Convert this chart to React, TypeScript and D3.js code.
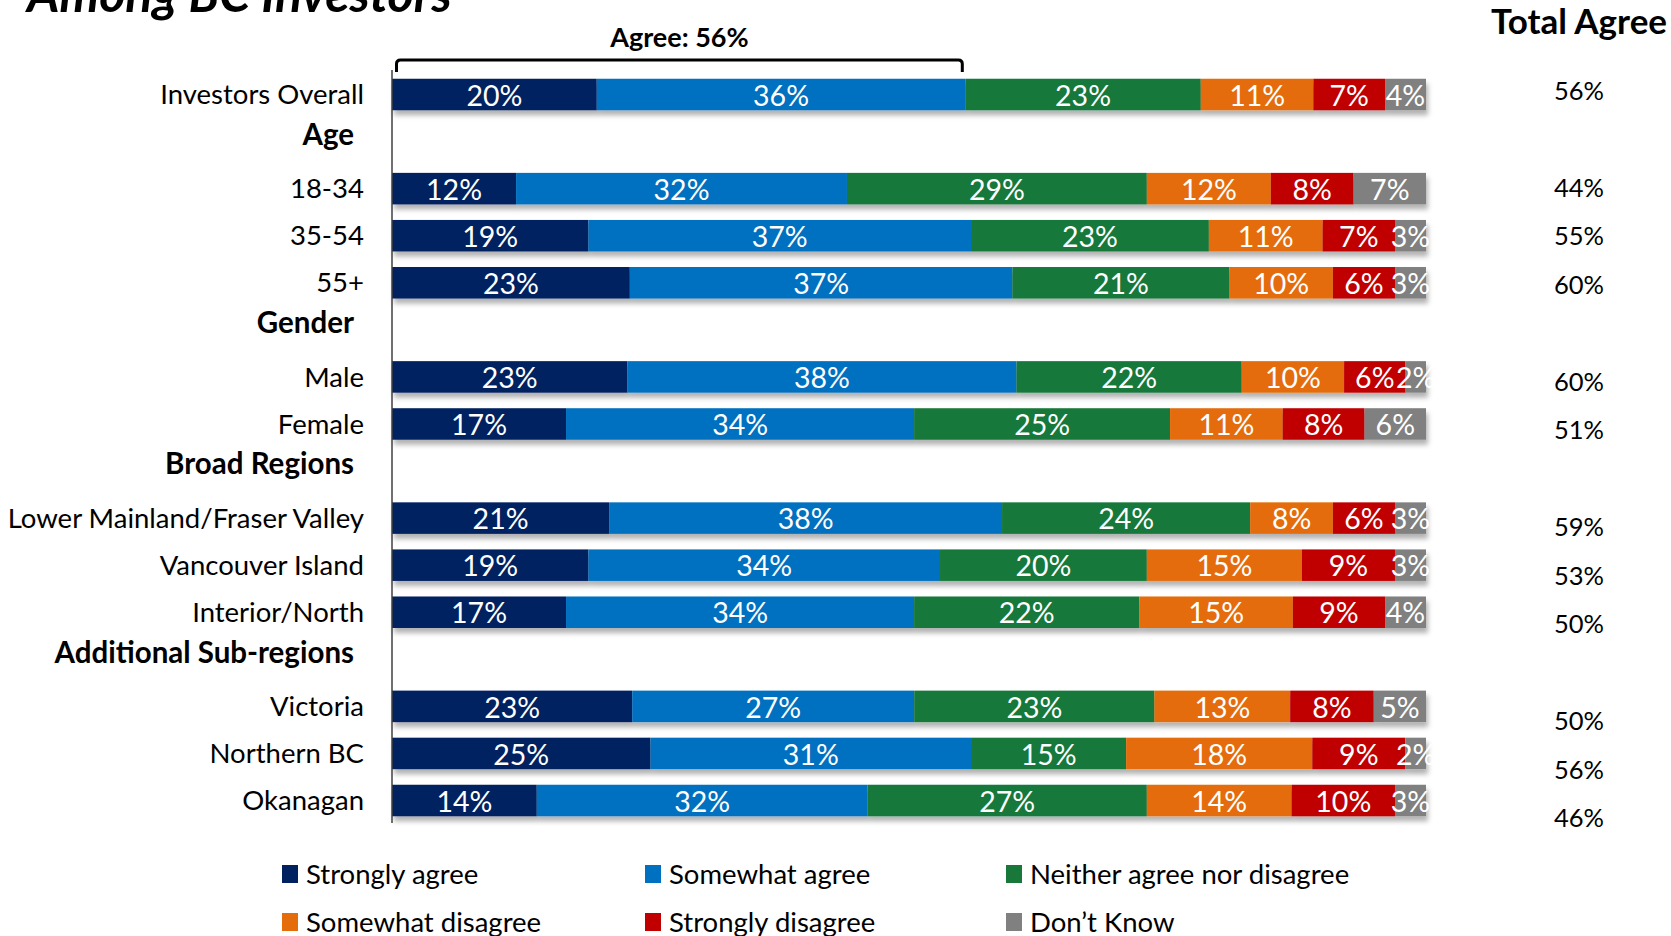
import React from "react";
import * as d3 from "d3";

const slots = [
  "Investors Overall", "Age", "18-34", "35-54", "55+", "Gender", "Male", "Female",
  "Broad Regions", "Lower Mainland/Fraser Valley", "Vancouver Island", "Interior/North",
  "Additional Sub-regions", "Victoria", "Northern BC", "Okanagan",
];
const headers = ["Age", "Gender", "Broad Regions", "Additional Sub-regions"];
const categories = [
  "Investors Overall", "18-34", "35-54", "55+", "Male", "Female",
  "Lower Mainland/Fraser Valley", "Vancouver Island", "Interior/North",
  "Victoria", "Northern BC", "Okanagan",
];
const seriesNames = [
  "Strongly agree", "Somewhat agree", "Neither agree nor disagree",
  "Somewhat disagree", "Strongly disagree", "Don\u2019t Know",
];
const stronglyAgree = [20, 12, 19, 23, 23, 17, 21, 19, 17, 23, 25, 14];
const somewhatAgree = [36, 32, 37, 37, 38, 34, 38, 34, 34, 27, 31, 32];
const neither = [23, 29, 23, 21, 22, 25, 24, 20, 22, 23, 15, 27];
const somewhatDisagree = [11, 12, 11, 10, 10, 11, 8, 15, 15, 13, 18, 14];
const stronglyDisagree = [7, 8, 7, 6, 6, 8, 6, 9, 9, 8, 9, 10];
const dontKnow = [4, 7, 3, 3, 2, 6, 3, 3, 4, 5, 2, 3];
const totalAgree = [56, 44, 55, 60, 60, 51, 59, 53, 50, 50, 56, 46];
const overallAgreeLabel = "Agree: 56%";

const colors = ["#002060", "#0070C0", "#17783A", "#E46C0A", "#C00000", "#808080"];
const FONT = "Lato, 'Open Sans', sans-serif";

export default function App() {
  const W = 1671, H = 936;
  const seriesValues = [stronglyAgree, somewhatAgree, neither, somewhatDisagree, stronglyDisagree, dontKnow];
  const table = categories.map((c, i) => {
    const o: any = { cat: c };
    seriesNames.forEach((s, j) => (o[s] = seriesValues[j][i]));
    return o;
  });
  const stack = d3.stack<any>().keys(seriesNames).offset(d3.stackOffsetExpand);
  const stacked = stack(table);

  const x = d3.scaleLinear().domain([0, 1]).range([392, 1426]);
  const y = d3.scalePoint<string>().domain(slots).range([94.5, 800.5]);
  const yTotal = d3.scalePoint<string>().domain(slots).range([90.6, 818.5]);
  const barH = 31.5;

  const overallAgreeEnd = stacked[1][0][1];
  const bx0 = x(0) + 4.5;
  const bx1 = x(overallAgreeEnd) - 3;
  const bTop = 60;
  const bBot = 72;
  const r = 4;
  const bracket = `M${bx0},${bBot} L${bx0},${bTop + r} Q${bx0},${bTop} ${bx0 + r},${bTop} L${bx1 - r},${bTop} Q${bx1},${bTop} ${bx1},${bTop + r} L${bx1},${bBot}`;

  const legendCols = [282, 645, 1006];
  const legendRows = [874, 922];

  return (
    <svg width={W} height={H} style={{ position: "absolute", left: 0, top: 0, background: "#fff" }} fontFamily={FONT}>
      <defs>
        <filter id="shadow" x="-5%" y="-30%" width="110%" height="180%">
          <feDropShadow dx="2" dy="5" stdDeviation="2.5" floodColor="#000" floodOpacity="0.3" />
        </filter>
      </defs>

      {/* Title (clipped at top) */}
      <text x={27} y={12} fontSize={50} fontWeight={700} fontStyle="italic" fill="#000">Among BC Investors</text>

      {/* Total Agree header */}
      <text x={1579} y={22} dy="0.35em" textAnchor="middle" fontSize={35} fontWeight={700} fill="#000">Total Agree</text>

      {/* Agree bracket */}
      <text x={(bx0 + bx1) / 2} y={38} dy="0.35em" textAnchor="middle" fontSize={27} fontWeight={700} fill="#000">{overallAgreeLabel}</text>
      <path d={bracket} fill="none" stroke="#000" strokeWidth={3} />

      {/* Bars */}
      {categories.map((c, i) => (
        <g key={c} filter="url(#shadow)">
          {stacked.map((s, j) => (
            <rect key={j} x={x(s[i][0])} y={(y(c) as number) - barH / 2} width={x(s[i][1]) - x(s[i][0])} height={barH} fill={colors[j]} />
          ))}
        </g>
      ))}
      {categories.map((c, i) => (
        <g key={c + "l"}>
          {stacked.map((s, j) => (
            <text key={j} x={(x(s[i][0]) + x(s[i][1])) / 2} y={(y(c) as number) + 1} dy="0.36em" textAnchor="middle" fontSize={28.5} fill="#fff">
              {seriesValues[j][i]}%
            </text>
          ))}
        </g>
      ))}

      {/* Axis line */}
      <line x1={392} x2={392} y1={70} y2={823} stroke="#404040" strokeWidth={1.5} />

      {/* Category labels */}
      {categories.map((c) => (
        <text key={c} x={364} y={y(c) as number} dy="0.35em" textAnchor="end" fontSize={27.5} fill="#000">{c}</text>
      ))}
      {headers.map((h) => (
        <text key={h} x={354} y={(y(h) as number) - 7} dy="0.35em" textAnchor="end" fontSize={29.5} fontWeight={700} fill="#000">{h}</text>
      ))}

      {/* Total agree values */}
      {categories.map((c, i) => (
        <text key={c + "t"} x={1579} y={yTotal(c) as number} dy="0.35em" textAnchor="middle" fontSize={25.5} fill="#000">{totalAgree[i]}%</text>
      ))}

      {/* Legend */}
      {seriesNames.map((s, j) => {
        const lx = legendCols[j % 3];
        const ly = legendRows[Math.floor(j / 3)];
        return (
          <g key={s}>
            <rect x={lx} y={ly - 9} width={16} height={18} fill={colors[j]} />
            <text x={lx + 24} y={ly} dy="0.35em" fontSize={27.5} fill="#000">{s}</text>
          </g>
        );
      })}
    </svg>
  );
}
